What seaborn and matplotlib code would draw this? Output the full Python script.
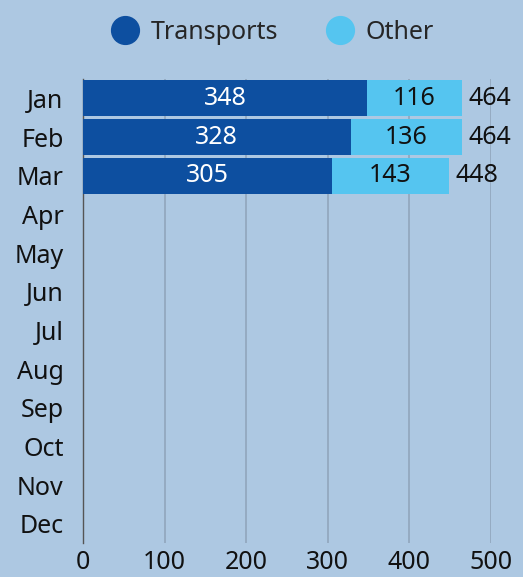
import matplotlib
matplotlib.use("Agg")
import matplotlib.pyplot as plt
import seaborn as sns
import pandas as pd
import numpy as np
from matplotlib.lines import Line2D

months = ["Jan", "Feb", "Mar", "Apr", "May", "Jun", "Jul", "Aug", "Sep", "Oct", "Nov", "Dec"]
transports = [348, 328, 305, None, None, None, None, None, None, None, None, None]
other = [116, 136, 143, None, None, None, None, None, None, None, None, None]
xticks = [0, 100, 200, 300, 400, 500]

BG = "#adc8e2"
DARK = "#0d4fa0"
LIGHT = "#55c5f0"
FS = 18

sns.set_theme(style="white")
plt.rcParams["font.family"] = ["Noto Sans", "DejaVu Sans"]

df = pd.DataFrame({"month": months,
                   "transports": pd.array(transports, dtype="Float64").astype(float),
                   "other": pd.array(other, dtype="Float64").astype(float)})
df["total"] = df["transports"] + df["other"]

fig = plt.figure(figsize=(5.23, 5.77), dpi=100, facecolor=BG)
ax = fig.add_axes([0.1587, 0.0589, 0.9388 - 0.1587, 0.863 - 0.0589])
ax.set_facecolor(BG)

sns.barplot(data=df, x="total", y="month", order=months, color=LIGHT,
            width=0.93, orient="h", ax=ax, saturation=1, zorder=3, linewidth=0)
sns.barplot(data=df, x="transports", y="month", order=months, color=DARK,
            width=0.93, orient="h", ax=ax, saturation=1, zorder=4, linewidth=0)

ax.set_xlim(0, 500)
ax.set_ylim(11.5, -0.5)
ax.set_xticks(xticks)
ax.set_xticklabels([str(t) for t in xticks])
ax.set_xlabel("")
ax.set_ylabel("")
ax.grid(axis="x", color="#8ea3b9", linewidth=1.1, zorder=0)
ax.grid(axis="y", visible=False)
for s in ["top", "right", "bottom"]:
    ax.spines[s].set_visible(False)
ax.spines["left"].set_color("#555555")
ax.spines["left"].set_linewidth(1.0)
ax.tick_params(axis="both", length=0, labelsize=FS, colors="#111111")
ax.tick_params(axis="x", pad=5)
ax.tick_params(axis="y", pad=14)

for i, m in enumerate(months):
    t = df["transports"][i]
    o = df["other"][i]
    if np.isnan(t):
        continue
    ax.text(t / 2, i, f"{int(t)}", ha="center", va="center", color="white",
            fontsize=FS, zorder=6)
    ax.text(t + o / 2, i, f"{int(o)}", ha="center", va="center", color="#111111",
            fontsize=FS, zorder=6)
    ax.text(t + o + 9, i, f"{int(t + o)}", ha="left", va="center", color="#111111",
            fontsize=FS, zorder=6, clip_on=False)

handles = [Line2D([0], [0], marker="o", linestyle="", markersize=20, markerfacecolor=DARK,
                  markeredgecolor=DARK, label="Transports"),
           Line2D([0], [0], marker="o", linestyle="", markersize=20, markerfacecolor=LIGHT,
                  markeredgecolor=LIGHT, label="Other")]
fig.legend(handles=handles, loc="center", bbox_to_anchor=(0.52, 0.944), ncol=2,
           frameon=False, fontsize=FS, handletextpad=0.4, columnspacing=1.9,
           handlelength=1.2)

fig.savefig("out.png", dpi=100, facecolor=BG)
